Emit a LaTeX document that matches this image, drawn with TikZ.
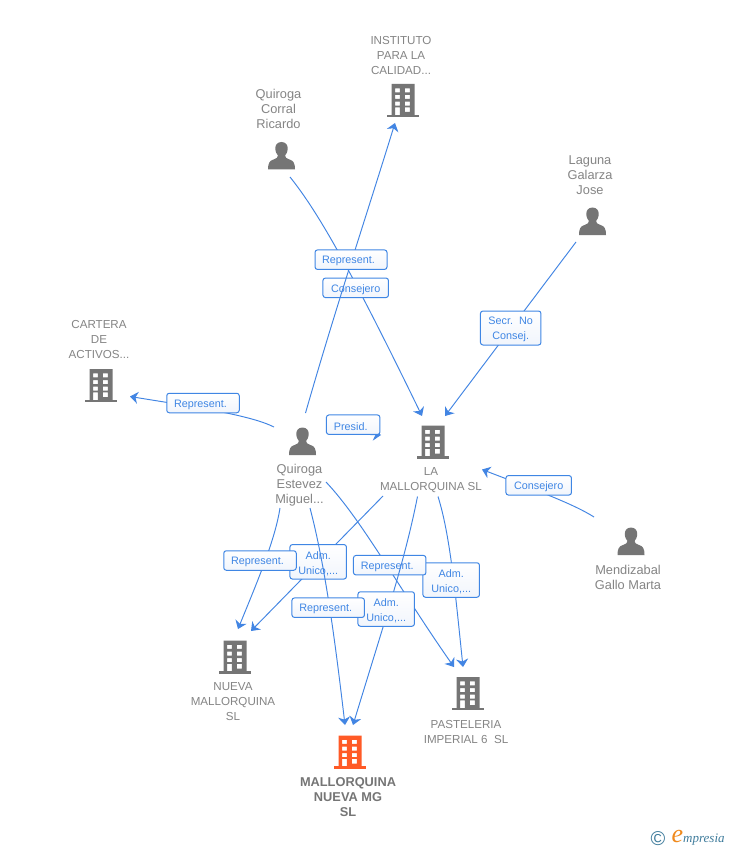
\documentclass[tikz,border=0pt]{standalone}
\usepackage{fontspec}
\setmainfont{Liberation Sans}
\newfontfamily\logofont{Liberation Serif}
\usetikzlibrary{arrows.meta}
\definecolor{linkblue}{HTML}{4285E3}
\definecolor{labelblue}{HTML}{3F86E4}
\definecolor{labelpale}{HTML}{F1F5FC}
\definecolor{icongray}{HTML}{757575}
\definecolor{textgray}{HTML}{858585}
\definecolor{mainorange}{HTML}{FF5A26}
\definecolor{logoteal}{HTML}{3F7C9C}
\definecolor{logoorange}{HTML}{F08A1D}
\newcommand{\lb}[1]{\raisebox{-1.5pt}[\height][\depth]{#1}}
\tikzset{
  conn/.style={draw=linkblue,line width=0.95pt,-{Stealth[length=8pt,width=12pt,inset=2.5pt]}},
  lab/.style={draw=labelblue,line width=1pt,rounded corners=2.5pt,top color=white,bottom color=labelpale,
    text=labelblue,inner sep=0pt,align=center,font=\fontsize{10.8}{15}\selectfont},
  ent/.style={text=textgray,inner sep=0pt,align=center,font=\fontsize{11.6}{15}\selectfont},
  entp/.style={ent,font=\fontsize{12.8}{15}\selectfont},
  entmain/.style={ent,text=icongray,font=\bfseries\fontsize{12.8}{15}\selectfont},
  iconbox/.style={inner sep=0pt,minimum width=32pt,minimum height=34pt},
  personbox/.style={inner sep=0pt,minimum width=28pt,minimum height=28pt},
}
\newcommand{\bldg}[2]{%
  \fill[#2,even odd rule,shift={(#1.center)}]
    (-11.5,-16.5) rectangle (11.5,15)
    (-7.8,-12.2) rectangle (-3.2,-8.2) (1.8,-12.2) rectangle (6.8,-8.2)
    (-7.8,-5.5) rectangle (-3.2,-1.5) (1.8,-5.5) rectangle (6.8,-1.5)
    (-7.8,1.2) rectangle (-3.2,5.2) (1.8,1.2) rectangle (6.8,5.2)
    (-7.8,6.8) rectangle (-3.2,15) (1.8,6.8) rectangle (6.8,11.5);
  \fill[#2,shift={(#1.center)}] (-16,14.2) rectangle (16,16.8);
}
\newcommand{\persn}[1]{%
  \fill[icongray,shift={(#1.center)}]
    (0,-14) .. controls (-4.5,-14) and (-6.3,-10.5) .. (-6.2,-7.5)
    .. controls (-6.1,-4) and (-4.8,-2) .. (-3.6,-0.5)
    .. controls (-3.4,1.5) and (-5,2.5) .. (-8,3.5)
    .. controls (-12,4.8) and (-13.5,7) .. (-13.5,13.5)
    -- (13.5,13.5)
    .. controls (13.5,7) and (12,4.8) .. (8,3.5)
    .. controls (5,2.5) and (3.4,1.5) .. (3.6,-0.5)
    .. controls (4.8,-2) and (6.1,-4) .. (6.2,-7.5)
    .. controls (6.3,-10.5) and (4.5,-14) .. (0,-14) -- cycle;
}
\begin{document}
\begin{tikzpicture}[x=1pt,y=-1pt]
\useasboundingbox (0,0) rectangle (728,850);
\fill[white] (0,0) rectangle (728,850);
% icons
\node[iconbox] (instituto) at (403,100.5) {};
\node[iconbox] (cartera) at (101,385.5) {};
\node[iconbox] (mallorquina) at (433,442) {};
\node[iconbox] (nueva) at (235,657) {};
\node[iconbox] (pasteleria) at (468,693.5) {};
\node[iconbox] (mgsl) at (350,752) {};
\node[personbox] (corral) at (281.5,156) {};
\node[personbox] (laguna) at (592.5,221.5) {};
\node[personbox] (estevez) at (302.5,441.5) {};
\node[personbox] (gallo) at (631,541.5) {};
\bldg{instituto}{icongray}
\bldg{cartera}{icongray}
\bldg{mallorquina}{icongray}
\bldg{nueva}{icongray}
\bldg{pasteleria}{icongray}
\bldg{mgsl}{mainorange}
\persn{corral}
\persn{laguna}
\persn{estevez}
\persn{gallo}
% texts
\node[ent] (tinstituto) at (401,56) {INSTITUTO\\PARA LA\\CALIDAD...};
\node[entp] (tcorral) at (278.5,109) {Quiroga\\Corral\\Ricardo};
\node[entp] (tlaguna) at (590,175) {Laguna\\Galarza\\Jose};
\node[ent] (tcartera) at (99,340) {CARTERA\\DE\\ACTIVOS...};
\node[entp] (testevez) at (299.5,485) {Quiroga\\Estevez\\Miguel...};
\node[ent] (tmallorquina) at (431,480.5) {LA\\MALLORQUINA SL};
\node[entp] (tgallo) at (628,577.5) {Mendizabal\\Gallo Marta};
\node[ent] (tnueva) at (233,702) {NUEVA\\MALLORQUINA\\SL};
\node[ent] (tpasteleria) at (466,731.5) {PASTELERIA\\IMPERIAL 6\ \ SL};
\node[entmain] (tmgsl) at (348,797) {MALLORQUINA\\NUEVA MG\\SL};
% free ends of connectors
\coordinate (s1) at (290,177); \coordinate (e1) at (422,416);
\coordinate (s2) at (305.5,413); \coordinate (e2) at (395,123);
\coordinate (s3) at (576,242); \coordinate (e3) at (445,416);
\coordinate (s4) at (594,517); \coordinate (e4) at (482,469.5);
\coordinate (s5) at (274,427); \coordinate (e5) at (130,396.5);
\coordinate (s6) at (326,432.5); \coordinate (e6) at (381,435);
\coordinate (s7) at (280,508); \coordinate (e7) at (238,629);
\coordinate (s8) at (383,496); \coordinate (e8) at (251,631);
\coordinate (s9) at (326,482); \coordinate (e9) at (454,667);
\coordinate (s10) at (310,508); \coordinate (e10) at (345,725);
\coordinate (s11) at (417.5,496.5); \coordinate (e11) at (353,725);
\coordinate (s12) at (438,496.5); \coordinate (e12) at (463,667);
% connectors and their labels, in stacking order
\draw[conn] (s1) .. controls (318,212) and (350,268) .. (e1);
\node[lab,minimum width=65.5pt,minimum height=19.5pt] (consa) at (355.7,287.8) {\lb{Consejero}};
\draw[conn] (s2) .. controls (335,310) and (365,220) .. (e2);
\node[lab,minimum width=72pt,minimum height=19.5pt] (repa) at (351,259.7) {\lb{Represent.\hspace*{5pt}}};
\draw[conn] (s3) -- (e3);
\node[lab,minimum width=60.5pt,minimum height=34pt] (secr) at (510.7,328) {\lb{Secr.\ \ No}\\\lb{Consej.}};
\draw[conn] (s4) .. controls (572,503) and (530,488) .. (e4);
\node[lab,minimum width=65.5pt,minimum height=19.5pt] (consb) at (538.7,485.3) {\lb{Consejero}};
\draw[conn] (s5) .. controls (250,415) and (195,407) .. (e5);
\node[lab,minimum width=72.5pt,minimum height=19.5pt] (repb) at (203,403) {\lb{Represent.\hspace*{5pt}}};
\draw[conn] (s6) -- (e6);
\node[lab,minimum width=53.5pt,minimum height=19.5pt] (pres) at (353.2,424.7) {\lb{Presid.\hspace*{5pt}}};
\draw[conn] (s12) .. controls (450,535) and (455,590) .. (e12);
\node[lab,minimum width=56.5pt,minimum height=34.5pt] (admb) at (451.2,580) {\lb{Adm.}\\\lb{Unico,...}};
\draw[conn] (s9) .. controls (362,520) and (400,590) .. (e9);
\node[lab,minimum width=72.5pt,minimum height=19.5pt] (repd) at (389.7,565.2) {\lb{Represent.\hspace*{5pt}}};
\draw[conn] (s11) .. controls (405,560) and (385,620) .. (e11);
\node[lab,minimum width=56.5pt,minimum height=34.5pt] (admc) at (386.2,609) {\lb{Adm.}\\\lb{Unico,...}};
\draw[conn] (s8) -- (e8);
\node[lab,minimum width=56.5pt,minimum height=34.5pt] (adma) at (318.2,561.8) {\lb{Adm.}\\\lb{Unico,...}};
\draw[conn] (s10) .. controls (325,565) and (335,640) .. (e10);
\node[lab,minimum width=72.5pt,minimum height=19.5pt] (repe) at (328.2,607.7) {\lb{Represent.\hspace*{5pt}}};
\draw[conn] (s7) .. controls (275,540) and (258,580) .. (e7);
\node[lab,minimum width=72.5pt,minimum height=19.5pt] (repc) at (260,560.5) {\lb{Represent.\hspace*{5pt}}};
% logo
\node[text=logoteal,inner sep=0pt,font=\fontsize{20}{20}\selectfont] (logoc) at (658,839) {©};
\node[text=logoorange,inner sep=0pt,font=\logofont\itshape\fontsize{26}{26}\selectfont] (logoe) at (677.5,836) {e};
\node[text=logoteal,inner sep=0pt,anchor=west,font=\logofont\itshape\fontsize{13}{13}\selectfont] (logot) at (683,840) {mpresia};
\end{tikzpicture}
\end{document}
